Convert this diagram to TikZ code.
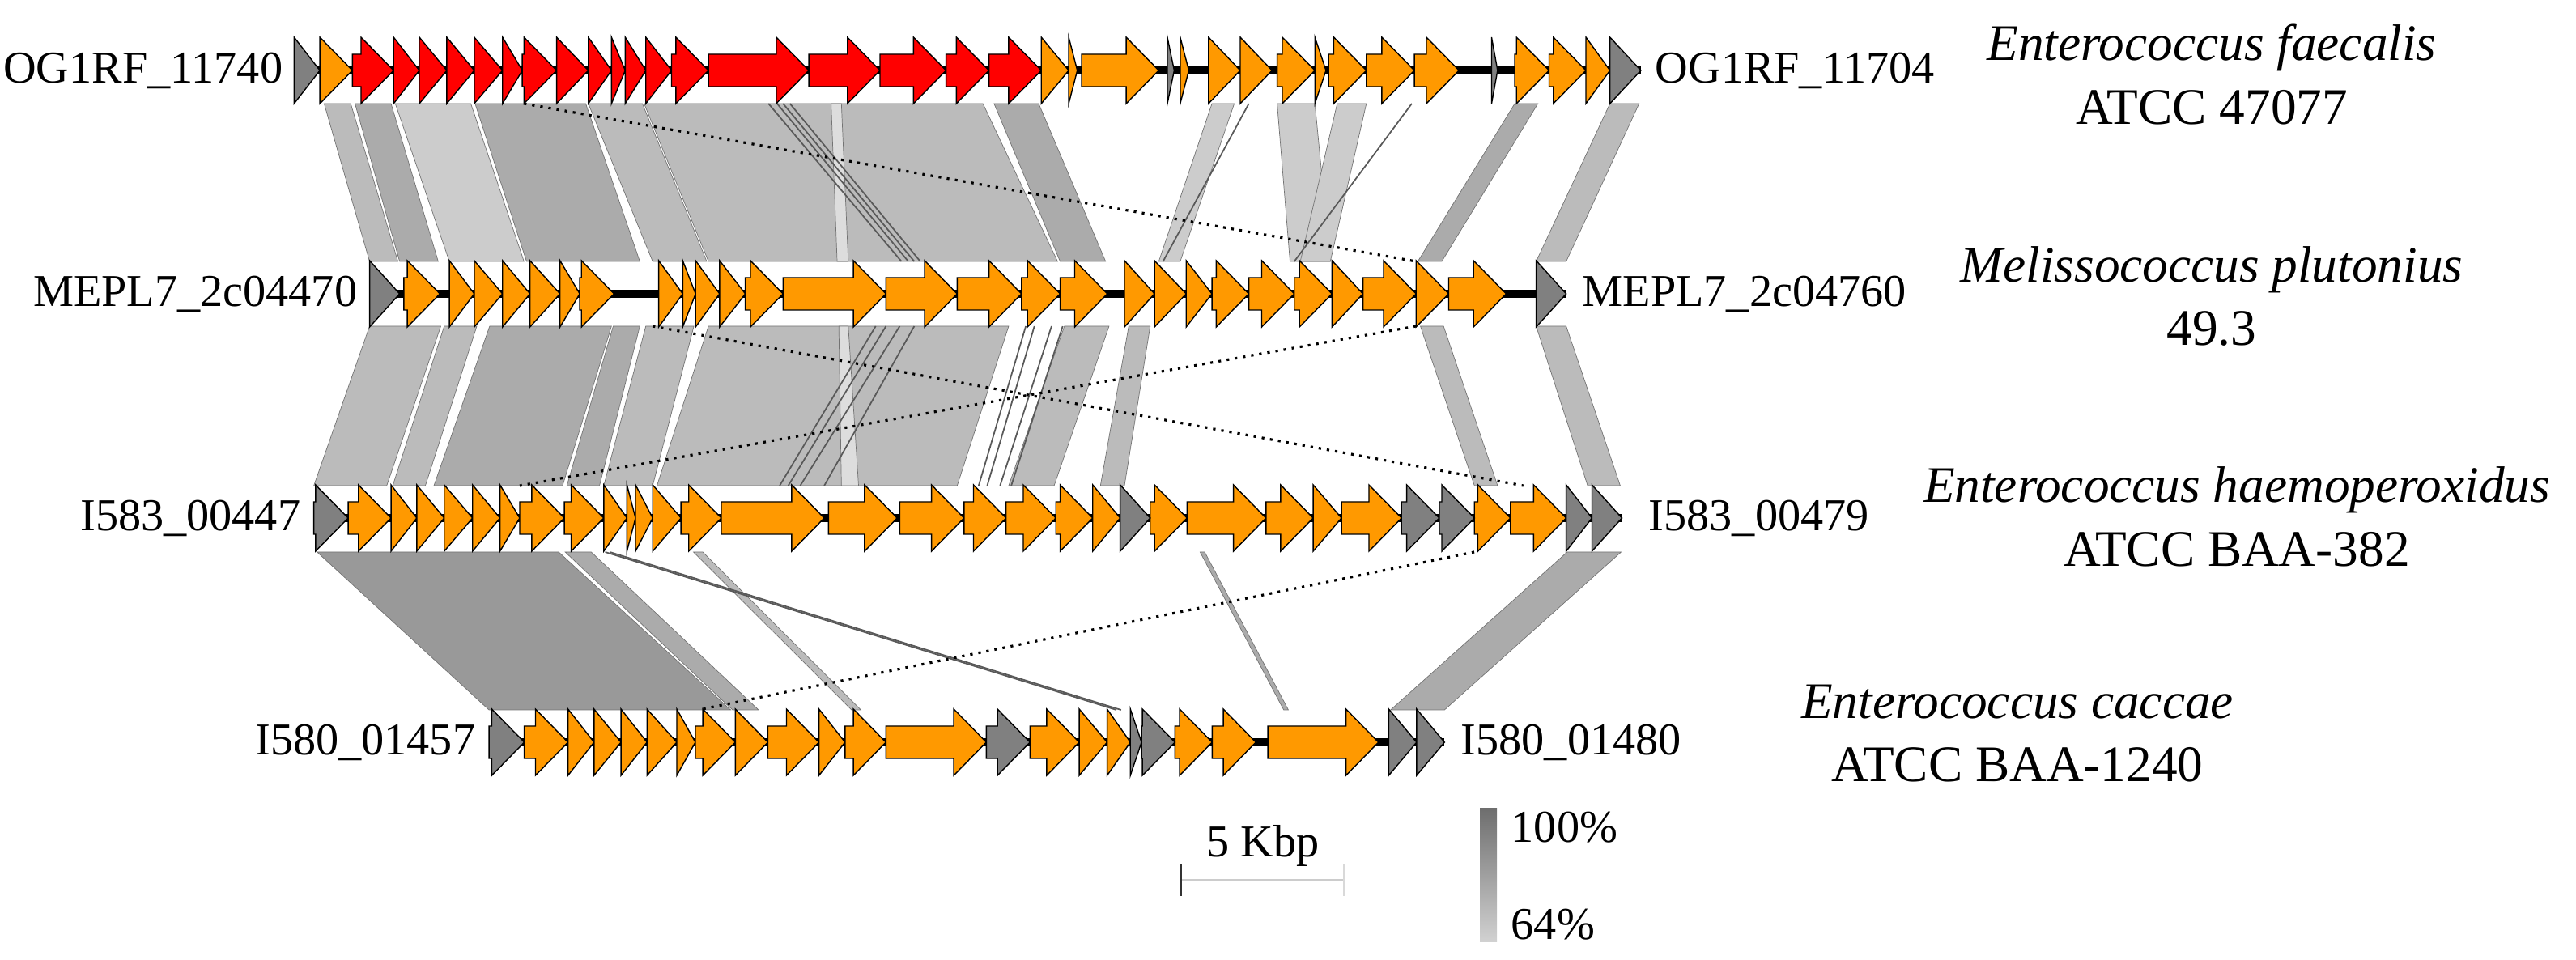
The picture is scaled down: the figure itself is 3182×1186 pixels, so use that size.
\documentclass[tikz,border=0pt]{standalone}
\usepackage{fontspec}
\setmainfont{Liberation Serif}
\definecolor{geneorange}{HTML}{FF9900}
\definecolor{genered}{HTML}{FF0000}
\definecolor{genegrey}{HTML}{808080}
\definecolor{ribA}{HTML}{ABABAB}
\definecolor{ribB}{HTML}{BBBBBB}
\definecolor{ribC}{HTML}{CCCCCC}
\definecolor{ribD}{HTML}{999999}
\definecolor{ribE}{HTML}{DDDDDD}
\tikzset{
  genebox/.style={draw=black,line width=0.4pt,line join=miter},
  backbone/.style={line width=2.6pt,black},
  locus/.style={font=\fontsize{16}{18}\selectfont,inner sep=4pt},
  species/.style={font=\fontsize{18}{22.4}\selectfont,align=center},
  ribedge/.style={draw=black!55,line width=0.2pt},
  hitline/.style={black!65,line width=0.5pt},
  linkdot/.style={black,dotted,line width=0.9pt}
}
\def\headlen{38}
% gene arrow: start, end, colour (in track units)
\newcommand{\gene}[3]{%
  \pgfmathsetmacro{\hl}{min(\headlen,#2-#1)}%
  \pgfmathsetmacro{\sx}{#2-\hl}%
  \draw[genebox,fill=#3] (#1,-20) -- (\sx,-20) -- (\sx,-41) -- (#2,0)
    -- (\sx,41) -- (\sx,20) -- (#1,20) -- cycle;}
% ribbon: top start, top end, bottom start, bottom end, colour
\newcommand{\ribbon}[5]{%
  \fill[#5,ribedge] (#1,\ytop) -- (#2,\ytop) -- (#4,\ybot) -- (#3,\ybot) -- cycle;}
\begin{document}
\begin{tikzpicture}[x=0.01cm,y=-0.01cm]
\useasboundingbox (0,0) rectangle (3182,1186);

% ---- ribbons track 1 -> 2 ----
\begin{scope}[shift={(340,0)},x=0.010587cm]
  \def\ytop{128}\def\ybot{323}
  \ribbon{57}{88}{110}{143}{ribB}
  \ribbon{93}{135}{145}{190}{ribA}
  \ribbon{140}{228}{203}{290}{ribC}
  \ribbon{233}{362}{293}{425}{ribA}
  \ribbon{365}{428}{440}{503}{ribB}
  \ribbon{430}{825}{505}{912}{ribB}
  \ribbon{648}{660}{655}{668}{ribE}
  \ribbon{838}{890}{915}{968}{ribA}
  \ribbon{1092}{1118}{1030}{1055}{ribC}
  \ribbon{1168}{1212}{1183}{1230}{ribC}
  \ribbon{1238}{1272}{1195}{1230}{ribC}
  \ribbon{1445}{1472}{1332}{1360}{ribA}
  \ribbon{1556}{1590}{1470}{1505}{ribB}
  \foreach \a/\b in {575/730,585/738,592/745,600/752}
    \draw[hitline] (\a,\ytop) -- (\b,\ybot);
  \draw[hitline] (1135,\ytop) -- (1035,\ybot);
  \draw[hitline] (1325,\ytop) -- (1188,\ybot);
  \draw[linkdot] (290,\ytop) -- (1330,\ybot);
\end{scope}

% ---- ribbons track 2 -> 3 ----
\begin{scope}[shift={(340,0)},x=0.010587cm]
  \def\ytop{403}\def\ybot{600}
  \ribbon{110}{193}{45}{130}{ribB}
  \ribbon{197}{235}{137}{175}{ribB}
  \ribbon{250}{392}{185}{335}{ribA}
  \ribbon{394}{425}{340}{378}{ribA}
  \ribbon{432}{488}{383}{440}{ribB}
  \ribbon{505}{855}{445}{795}{ribB}
  \ribbon{657}{668}{660}{680}{ribE}
  \ribbon{920}{972}{855}{908}{ribB}
  \ribbon{995}{1020}{962}{990}{ribB}
  \ribbon{1335}{1362}{1398}{1425}{ribB}
  \ribbon{1470}{1505}{1530}{1568}{ribB}
  \foreach \a/\b in {700/588,712/598,728/612,745/640}
    \draw[hitline] (\a,\ytop) -- (\b,\ybot);
  \foreach \a/\b in {875/820,885/830,905/845,918/858}
    \draw[hitline] (\a,\ytop) -- (\b,\ybot);
  \draw[linkdot] (440,\ytop) -- (1455,\ybot);
  \draw[linkdot] (1330,\ytop) -- (285,\ybot);
\end{scope}

% ---- ribbons track 3 -> 4 ----
\begin{scope}[shift={(340,0)},x=0.01148cm]
  \def\ytop{682}\def\ybot{877}
  \ribbon{45}{305}{230}{490}{ribD}
  \ribbon{312}{340}{492}{520}{ribA}
  \ribbon{450}{460}{620}{630}{ribB}
  \ribbon{995}{1000}{1085}{1090}{ribA}
  \ribbon{1390}{1448}{1200}{1258}{ribA}
  \draw[hitline] (355,\ytop) -- (905,\ybot);
  \draw[hitline] (360,\ytop) -- (910,\ybot);
  \draw[linkdot] (1290,\ytop) -- (455,\ybot);
\end{scope}

% ---- track 1 ----
\begin{scope}[shift={(340,87)},x=0.010587cm]
  \draw[backbone] (22,0) -- (1592,0);
  \gene{22}{52}{genegrey}
  \gene{52}{90}{geneorange}
  \foreach \a/\b in {90/138,138/168,168/200,200/232,232/265,265/288,288/328,
      328/365,365/392,392/408,408/432,432/462,462/505,505/622,622/705,
      705/782,782/832,832/893}
    \gene{\a}{\b}{genered};
  \foreach \a/\b in {893/925,925/935,940/1030,1055/1065,1088/1125,1125/1162,
      1168/1212,1212/1225,1228/1272,1272/1328,1328/1380,1445/1485,1485/1528,
      1528/1556}
    \gene{\a}{\b}{geneorange};
  \gene{1040}{1048}{genegrey}
  \gene{1418}{1425}{genegrey}
  \gene{1556}{1592}{genegrey}
\end{scope}

% ---- track 2 ----
\begin{scope}[shift={(340,363)},x=0.010587cm]
  \draw[backbone] (110,0) -- (1505,0);
  \gene{110}{145}{genegrey}
  \foreach \a/\b in {150/192,203/232,232/265,265/297,297/332,332/355,355/395,
      447/475,475/490,490/518,518/548,548/592,592/712,712/795,795/870,870/915,
      915/970,990/1025,1025/1062,1062/1092,1092/1135,1135/1188,1188/1232,
      1232/1268,1268/1330,1330/1368,1368/1435}
    \gene{\a}{\b}{geneorange};
  \gene{1470}{1505}{genegrey}
\end{scope}

% ---- track 3 ----
\begin{scope}[shift={(340,640)},x=0.010587cm]
  \draw[backbone] (45,0) -- (1570,0);
  \gene{45}{85}{genegrey}
  \foreach \a/\b in {85/135,135/165,165/197,197/230,230/262,262/285,285/337,
      337/383,383/410,410/420,420/440,440/473,473/520,520/640,645/725,728/803,
      803/852,852/910,910/953,953/985,1020/1063,1063/1155,1155/1210,1210/1243,
      1243/1313,1398/1440,1440/1505}
    \gene{\a}{\b}{geneorange};
  \foreach \a/\b in {985/1020,1313/1357,1357/1398,1505/1535,1535/1570}
    \gene{\a}{\b}{genegrey};
\end{scope}

% ---- track 4 ----
\begin{scope}[shift={(340,917)},x=0.01148cm]
  \def\headlen{35}
  \draw[backbone] (230,0) -- (1258,0);
  \gene{230}{268}{genegrey}
  \foreach \a/\b in {268/315,315/343,343/372,372/400,400/432,432/452,452/495,
      495/530,530/585,585/613,613/657,657/765,812/865,865/895,895/920,968/1008,
      1008/1055,1068/1187}
    \gene{\a}{\b}{geneorange};
  \foreach \a/\b in {765/812,920/932,932/968,1198/1228,1228/1258}
    \gene{\a}{\b}{genegrey};
\end{scope}

% ---- locus labels ----
\node[locus,anchor=east] (l1a) at (364,87) {OG1RF\_11740};
\node[locus,anchor=west] (l1b) at (2030,87) {OG1RF\_11704};
\node[locus,anchor=east] (l2a) at (456,363) {MEPL7\_2c04470};
\node[locus,anchor=west] (l2b) at (1940,363) {MEPL7\_2c04760};
\node[locus,anchor=east] (l3a) at (386,640) {I583\_00447};
\node[locus,anchor=west] (l3b) at (2022,640) {I583\_00479};
\node[locus,anchor=east] (l4a) at (602,917) {I580\_01457};
\node[locus,anchor=west] (l4b) at (1790,917) {I580\_01480};

% ---- species ----
\node[species] (sp1) at (2732,92) {\textit{Enterococcus faecalis}\\ATCC 47077};
\node[species] (sp2) at (2732,366) {\textit{Melissococcus plutonius}\\49.3};
\node[species] (sp3) at (2763,638) {\textit{Enterococcus haemoperoxidus}\\ATCC BAA-382};
\node[species] (sp4) at (2492,906) {\textit{Enterococcus caccae}\\ATCC BAA-1240};

% ---- scale bar ----
\coordinate (sbl) at (1459,1087);
\coordinate (sbr) at (1660,1087);
\draw[black!20,line width=0.8pt] (sbl) -- (sbr);
\draw[black!80,line width=0.8pt] (1459,1067) -- (1459,1107);
\draw[black!15,line width=0.8pt] (1660,1067) -- (1660,1107);
\node[locus] (sbtext) at (1560,1045) {5 Kbp};

% ---- identity key ----
\shade[top color=black!57,bottom color=black!18] (1828,998) rectangle (1849,1163);
\node[locus,anchor=west] (k100) at (1852,1022) {100\%};
\node[locus,anchor=west] (k64) at (1852,1142) {64\%};
\end{tikzpicture}
\end{document}
